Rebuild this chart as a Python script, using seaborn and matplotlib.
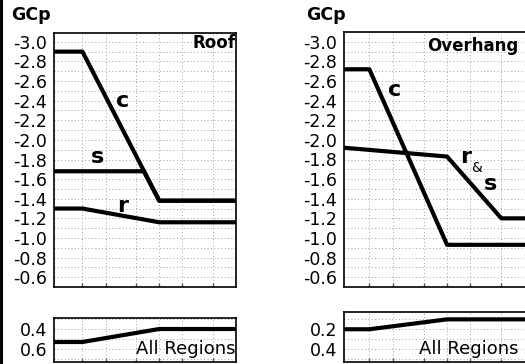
import numpy as np
import pandas as pd
import matplotlib
matplotlib.use("Agg")
import matplotlib.pyplot as plt
import seaborn as sns
from matplotlib.ticker import FixedLocator, NullLocator, NullFormatter, MultipleLocator

# Effective wind area breakpoints (log x) and GCp values
roof_area = [4.26, 10, 100, 1000]
roof_c = [-2.9, -2.9, -1.38, -1.38]
roof_s_area = [4.26, 63, 100, 1000]
roof_s = [-1.68, -1.68, -1.38, -1.38]
roof_r = [-1.3, -1.3, -1.16, -1.16]
roof_pos = [0.53, 0.53, 0.4, 0.4]

oh_area = [4.72, 10, 100, 1100]
oh_c = [-2.72, -2.72, -0.93, -0.93]
oh_rs_area = [4.72, 100, 500, 1100]
oh_rs = [-1.92, -1.83, -1.2, -1.2]
oh_pos = [0.2, 0.2, 0.1, 0.1]

main_yticks = [-3.0, -2.8, -2.6, -2.4, -2.2, -2.0, -1.8, -1.6, -1.4, -1.2, -1.0, -0.8, -0.6]
x_grid = [10, 20, 50, 100, 200, 500]

sns.set_style("white")
plt.rcParams['font.family'] = ['DejaVu Sans']
plt.rcParams['text.color'] = 'black'
plt.rcParams['xtick.color'] = 'black'
plt.rcParams['ytick.color'] = 'black'
plt.rcParams['axes.labelcolor'] = 'black'

fig = plt.figure(figsize=(5.25, 3.64), dpi=100)
W, H = 525, 364


def make_ax(left, right, top, bottom):
    return fig.add_axes([left / W, 1 - bottom / H, (right - left) / W, (bottom - top) / H])


def style_ax(ax, xlim, ylim, yticks):
    ax.set_xscale('log')
    ax.set_xlim(*xlim)
    ax.set_ylim(*ylim)
    ax.xaxis.set_major_locator(FixedLocator(x_grid))
    ax.xaxis.set_minor_locator(NullLocator())
    ax.xaxis.set_major_formatter(NullFormatter())
    ax.set_yticks(yticks)
    ax.set_yticklabels([f"{v:.1f}" for v in yticks])
    ax.yaxis.set_minor_locator(MultipleLocator(0.1))
    ax.grid(True, axis='x', which='major', color='#a0a0a0', linestyle=(0, (1, 2.5)), linewidth=0.7)
    ax.grid(True, axis='y', which='both', color='#a0a0a0', linestyle=(0, (1, 2.5)), linewidth=0.7)
    ax.tick_params(axis='x', direction='in', length=3, width=1, color='#555555', bottom=True)
    ax.tick_params(axis='y', which='both', length=0, pad=5, labelsize=12.5, labelcolor='black')
    ax.set_xlabel('')
    ax.set_ylabel('')
    for sp in ax.spines.values():
        sp.set_color('black')
        sp.set_linewidth(1.2)


def curve(ax, x, y):
    sns.lineplot(x=x, y=y, ax=ax, color='black', linewidth=3, sort=False, estimator=None)


# Roof panel
ax1 = make_ax(54, 236, 33, 287)
curve(ax1, roof_area, roof_c)
curve(ax1, roof_s_area, roof_s)
curve(ax1, roof_area, roof_r)
style_ax(ax1, (4.26, 1000), (-0.5, -3.09), main_yticks)
ax1.text(33, -2.40, 'c', fontsize=16, fontweight='bold', ha='center', va='center')
ax1.text(15.7, -1.83, 's', fontsize=16, fontweight='bold', ha='center', va='center')
ax1.text(33, -1.33, 'r', fontsize=16, fontweight='bold', ha='center', va='center')
ax1.text(0.995, 0.96, 'Roof', transform=ax1.transAxes, fontsize=12, fontweight='bold',
         ha='right', va='center')

ax2 = make_ax(54, 236, 318, 362)
curve(ax2, roof_area, roof_pos)
style_ax(ax2, (4.26, 1000), (0.73, 0.29), [0.4, 0.6])
ax2.text(0.995, 0.3, 'All Regions', transform=ax2.transAxes, fontsize=13,
         ha='right', va='center')

# Overhang panel
ax3 = make_ax(344, 528, 32, 287)
curve(ax3, oh_area, oh_c)
curve(ax3, oh_rs_area, oh_rs)
style_ax(ax3, (4.72, 1100), (-0.5, -3.1), main_yticks)
ax3.text(21.4, -2.51, 'c', fontsize=16, fontweight='bold', ha='center', va='center')
ax3.text(171, -1.83, 'r', fontsize=16, fontweight='bold', ha='center', va='center')
ax3.text(236, -1.71, '&', fontsize=10, ha='center', va='center')
ax3.text(357, -1.55, 's', fontsize=16, fontweight='bold', ha='center', va='center')
ax3.text(820, -2.96, 'Overhang', fontsize=12, fontweight='bold', ha='right', va='center')

ax4 = make_ax(344, 528, 312, 362)
curve(ax4, oh_area, oh_pos)
style_ax(ax4, (4.72, 1100), (0.53, 0.026), [0.2, 0.4])
ax4.text(820, 0.4, 'All Regions', fontsize=13, ha='right', va='center')

# axis titles
fig.text(31 / W, 1 - 15 / H, 'GCp', fontsize=12.5, fontweight='bold', ha='center', va='center')
fig.text(326 / W, 1 - 15 / H, 'GCp', fontsize=12.5, fontweight='bold', ha='center', va='center')

# black rule at the left edge
fig.add_artist(plt.Line2D([1 / W, 1 / W], [0, 1], color='black', linewidth=2.2,
                          transform=fig.transFigure))

fig.savefig('out.png', dpi=100)
